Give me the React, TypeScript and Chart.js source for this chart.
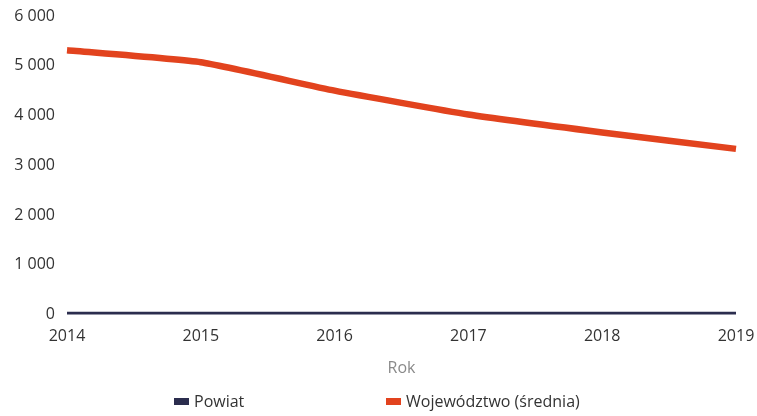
import React, { useEffect, useRef } from "react";
import { Chart, registerables } from "chart.js";

Chart.register(...registerables);

const years = ["2014", "2015", "2016", "2017", "2018", "2019"];
const powiat = [20, 20, 20, 20, 20, 20];
const wojewodztwo = [5310, 5070, 4500, 4020, 3660, 3330];
const seriesNames = ["Powiat", "Województwo (średnia)"];
const seriesColors = ["#2b2d4e", "#e2431e"];
const axisTitle = "Rok";

const FONT = "'Open Sans', sans-serif";

export default function App() {
  const ref = useRef<HTMLCanvasElement | null>(null);

  useEffect(() => {
    document.body.style.margin = "0";
    const ctx = ref.current;
    if (!ctx) return;
    const chart = new Chart(ctx, {
      type: "line",
      data: {
        labels: years,
        datasets: [
          {
            label: seriesNames[0],
            data: powiat,
            borderColor: seriesColors[0],
            backgroundColor: seriesColors[0],
            borderWidth: 3.5,
            pointRadius: 0,
            tension: 0,
          },
          {
            label: seriesNames[1],
            data: wojewodztwo,
            borderColor: seriesColors[1],
            backgroundColor: seriesColors[1],
            borderWidth: 6.5,
            pointRadius: 0,
            tension: 0.15,
            borderCapStyle: "butt",
          },
        ],
      },
      options: {
        animation: false,
        responsive: false,
        layout: { padding: { top: 16, right: 21, left: 0, bottom: 38 } },
        plugins: { legend: { display: false }, tooltip: { enabled: false } },
        scales: {
          x: {
            offset: false,
            grid: { display: false, drawTicks: false },
            border: { display: false },
            ticks: {
              color: "#333",
              font: { family: FONT, size: 16 },
              padding: 12,
              maxRotation: 0,
              autoSkip: false,
            },
            title: {
              display: true,
              text: axisTitle,
              color: "#8a8a8a",
              font: { family: FONT, size: 16 },
              padding: { top: 1, bottom: 0 },
            },
            afterFit: (s: any) => {
              s.paddingLeft = 0;
              s.paddingRight = 0;
            },
          },
          y: {
            min: 0,
            max: 6000,
            grid: { display: false, drawTicks: false },
            border: { display: false },
            ticks: {
              stepSize: 1000,
              color: "#333",
              font: { family: FONT, size: 16 },
              padding: 12,
              callback: (v: any) =>
                String(v).replace(/\B(?=(\d{3})+(?!\d))/g, " "),
            },
            afterFit: (s: any) => {
              s.width = 67;
              s.paddingTop = 0;
              s.paddingBottom = 0;
            },
          },
        },
      },
    });
    return () => chart.destroy();
  }, []);

  const legendItem = (i: number, left: number) => (
    <div
      key={i}
      style={{
        position: "absolute",
        left,
        top: 390,
        display: "flex",
        alignItems: "center",
        fontFamily: FONT,
        fontSize: 16,
        color: "#333",
        whiteSpace: "nowrap",
      }}
    >
      <span
        style={{
          display: "inline-block",
          width: 15,
          height: 7,
          background: seriesColors[i],
          marginRight: 5,
        }}
      />
      {seriesNames[i]}
    </div>
  );

  return (
    <div style={{ position: "relative", width: 757, height: 416 }}>
      <canvas ref={ref} width={757} height={416} style={{ display: "block" }} />
      {legendItem(0, 174)}
      {legendItem(1, 386)}
    </div>
  );
}
